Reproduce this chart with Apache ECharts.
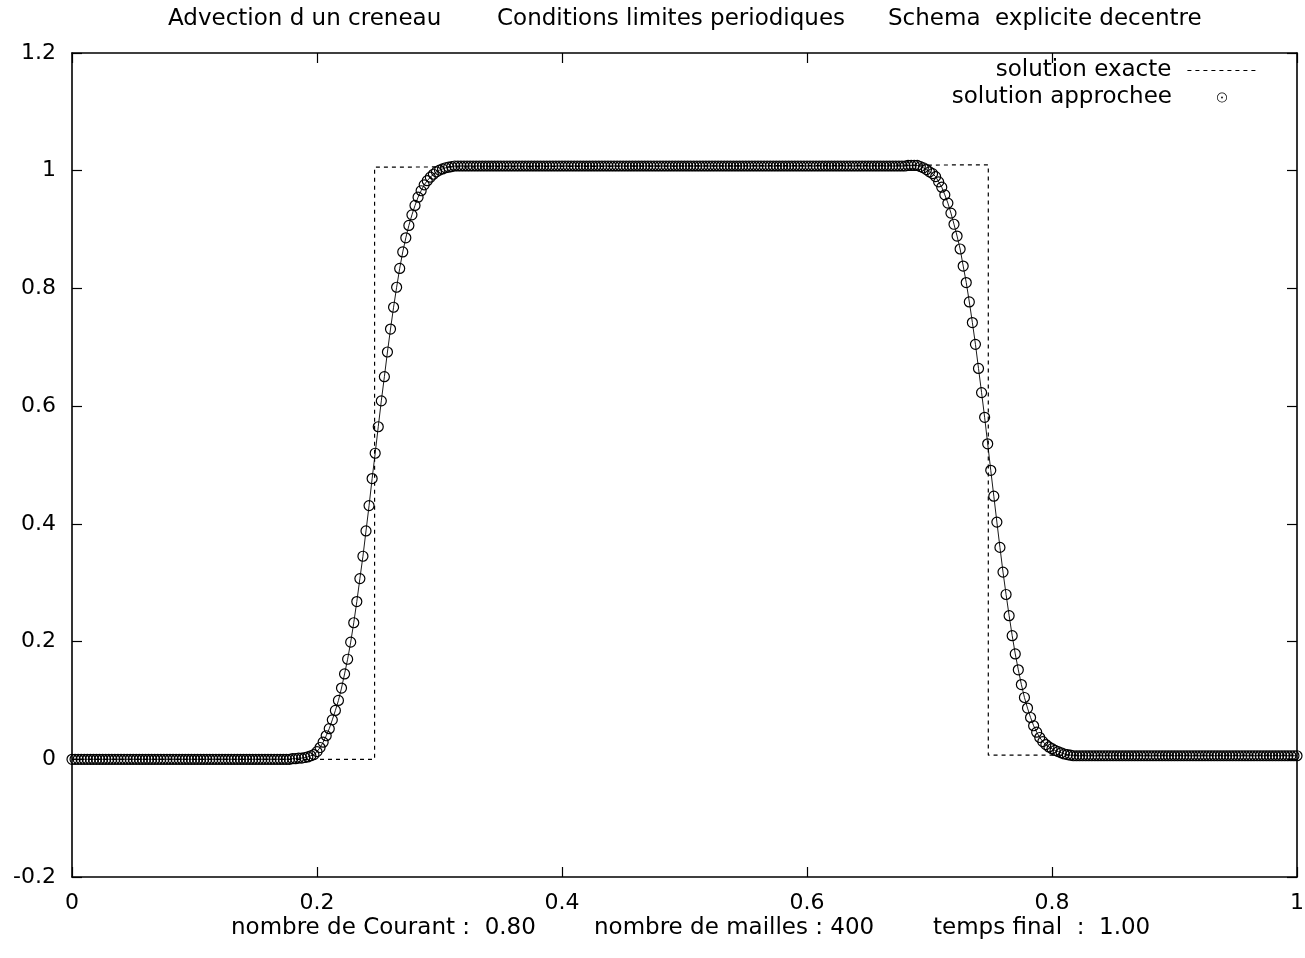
<!DOCTYPE html>
<html><head><meta charset="utf-8">
<script src="https://cdn.jsdelivr.net/npm/echarts@6/dist/echarts.min.js"></script>
<style>html,body{margin:0;padding:0;background:#fff}#c{width:1305px;height:958px}</style>
</head><body><div id="c"></div>
<script>
const FONT = 'DejaVu Sans';
const titleTexts = ['Advection d un creneau', 'Conditions limites periodiques', 'Schema  explicite decentre'];
const footerTexts = ['nombre de Courant :  0.80', 'nombre de mailles : 400', 'temps final  :  1.00'];
const seriesNames = ['solution exacte', 'solution approchee'];
const xTickValues = [0, 0.2, 0.4, 0.6, 0.8, 1];
const xTickLabels = ['0', '0.2', '0.4', '0.6', '0.8', '1'];
const yTickValues = [-0.2, 0, 0.2, 0.4, 0.6, 0.8, 1, 1.2];
const yTickLabels = ['-0.2', '0', '0.2', '0.4', '0.6', '0.8', '1', '1.2'];

// exact solution (square wave)
const exactX = [0, 0.247, 0.247, 0.748, 0.748, 1];
const exactY = [0, 0, 1.006, 1.010, 0.007, 0.007];

// approximate solution, one value per mesh node (400 cells -> 401 nodes)
const nMailles = 400;
const approxY = [
  0,0,0,0,0,0,0,0,0,0,                 // 0
  0,0,0,0,0,0,0,0,0,0,                 // 10
  0,0,0,0,0,0,0,0,0,0,                 // 20
  0,0,0,0,0,0,0,0,0,0,                 // 30
  0,0,0,0,0,0,0,0,0,0,                 // 40
  0,0,0,0,0,0,0,0,0,0,                 // 50
  0,0,0,0,0,0,0,0,0,0,                 // 60
  0,0,0.001,0.001,0.002,0.002,0.003,0.004,0.006,0.008,          // 70
  0.013,0.020,0.029,0.040,0.052,0.067,0.083,0.100,0.121,0.145,  // 80
  0.170,0.199,0.232,0.268,0.307,0.345,0.388,0.431,0.477,0.520,  // 90
  0.565,0.609,0.650,0.692,0.731,0.768,0.802,0.834,0.862,0.886,  // 100
  0.907,0.925,0.941,0.955,0.966,0.976,0.983,0.989,0.994,0.998,  // 110
  1.001,1.003,1.005,1.006,1.007,1.008,1.008,1.008,1.008,1.008,  // 120
  1.008,1.008,1.008,1.008,1.008,1.008,1.008,1.008,1.008,1.008,  // 130
  1.008,1.008,1.008,1.008,1.008,1.008,1.008,1.008,1.008,1.008,  // 140
  1.008,1.008,1.008,1.008,1.008,1.008,1.008,1.008,1.008,1.008,  // 150
  1.008,1.008,1.008,1.008,1.008,1.008,1.008,1.008,1.008,1.008,  // 160
  1.008,1.008,1.008,1.008,1.008,1.008,1.008,1.008,1.008,1.008,  // 170
  1.008,1.008,1.008,1.008,1.008,1.008,1.008,1.008,1.008,1.008,  // 180
  1.008,1.008,1.008,1.008,1.008,1.008,1.008,1.008,1.008,1.008,  // 190
  1.008,1.008,1.008,1.008,1.008,1.008,1.008,1.008,1.008,1.008,  // 200
  1.008,1.008,1.008,1.008,1.008,1.008,1.008,1.008,1.008,1.008,  // 210
  1.008,1.008,1.008,1.008,1.008,1.008,1.008,1.008,1.008,1.008,  // 220
  1.008,1.008,1.008,1.008,1.008,1.008,1.008,1.008,1.008,1.008,  // 230
  1.008,1.008,1.008,1.008,1.008,1.008,1.008,1.008,1.008,1.008,  // 240
  1.008,1.008,1.008,1.008,1.008,1.008,1.008,1.008,1.008,1.008,  // 250
  1.008,1.008,1.008,1.008,1.008,1.008,1.008,1.008,1.008,1.008,  // 260
  1.008,1.008,1.008,1.009,1.009,1.009,1.009,1.007,1.005,1.002,  // 270
  0.998,0.995,0.990,0.981,0.972,0.959,0.945,0.928,0.909,0.889,  // 280
  0.867,0.838,0.810,0.777,0.742,0.705,0.664,0.623,0.581,0.536,  // 290
  0.491,0.447,0.403,0.360,0.318,0.280,0.244,0.210,0.179,0.152,  // 300
  0.127,0.105,0.087,0.071,0.057,0.046,0.037,0.030,0.025,0.021,  // 310
  0.018,0.015,0.013,0.011,0.009,0.008,0.007,0.006,0.006,0.006,  // 320
  0.006,0.006,0.006,0.006,0.006,0.006,0.006,0.006,0.006,0.006,  // 330
  0.006,0.006,0.006,0.006,0.006,0.006,0.006,0.006,0.006,0.006,  // 340
  0.006,0.006,0.006,0.006,0.006,0.006,0.006,0.006,0.006,0.006,  // 350
  0.006,0.006,0.006,0.006,0.006,0.006,0.006,0.006,0.006,0.006,  // 360
  0.006,0.006,0.006,0.006,0.006,0.006,0.006,0.006,0.006,0.006,  // 370
  0.006,0.006,0.006,0.006,0.006,0.006,0.006,0.006,0.006,0.006,  // 380
  0.006,0.006,0.006,0.006,0.006,0.006,0.006,0.006,0.006,0.006,  // 390
  0.006                                                          // 400
];

function tickLabel(values, labels, v) {
  let best = 0;
  for (let i = 1; i < values.length; i++) if (Math.abs(values[i] - v) < Math.abs(values[best] - v)) best = i;
  return labels[best];
}

const RING = 'path://M10,0 A10,10 0 1,1 -10,0 A10,10 0 1,1 10,0 Z M8.6,0 A8.6,8.6 0 1,0 -8.6,0 A8.6,8.6 0 1,0 8.6,0 Z M1.8,0 A1.8,1.8 0 1,1 -1.8,0 A1.8,1.8 0 1,1 1.8,0 Z';

const txt = {fontFamily: FONT, fontSize: 23, fontWeight: 'normal', color: '#000'};
const lbl = {fontFamily: FONT, fontSize: 22, color: '#000'};
const axLine = {show: true, onZero: false, lineStyle: {color: '#000', width: 1.6}};
const axTick = {show: true, inside: true, length: 10, lineStyle: {color: '#000', width: 1.2}};

const titleLefts = [168, 497, 888];
const footerLefts = [231, 594, 933];

const chart = echarts.init(document.getElementById('c'), null, {renderer: 'canvas'});
chart.setOption({
  animation: false,
  backgroundColor: '#fff',
  title: titleTexts.map((t, i) => ({text: t, left: titleLefts[i], top: 8, padding: 0, textStyle: txt}))
    .concat(footerTexts.map((t, i) => ({text: t, left: footerLefts[i], top: 917, padding: 0, textStyle: txt}))),
  legend: [
    {data: [{name: seriesNames[0], icon: 'inherit',
             itemStyle: {color: 'transparent', borderWidth: 0, borderColor: 'transparent'},
             lineStyle: {color: '#000', width: 1.2, type: [4, 4]}}],
     orient: 'vertical', align: 'right', right: 47, top: 59, padding: 0,
     itemWidth: 70, itemHeight: 9, selectedMode: false,
     textStyle: Object.assign({}, txt, {padding: [0, 11, 0, 0]})},
    {data: [{name: seriesNames[1], icon: RING, itemStyle: {color: '#000', borderWidth: 0}}],
     orient: 'vertical', align: 'right', right: 78, top: 86, padding: 0,
     itemWidth: 10, itemHeight: 10, selectedMode: false,
     textStyle: Object.assign({}, txt, {padding: [0, 40, 0, 0]})}
  ],
  grid: {left: 72, right: 8, top: 53, bottom: 81, containLabel: false, outerBoundsMode: 'none'},
  xAxis: [
    {type: 'value', position: 'bottom', min: 0, max: 1, interval: 0.2,
     axisLine: axLine, axisTick: axTick, splitLine: {show: false},
     axisLabel: Object.assign({margin: 15, formatter: v => tickLabel(xTickValues, xTickLabels, v)}, lbl)},
    {type: 'value', position: 'top', min: 0, max: 1, interval: 0.2,
     axisLine: axLine, axisTick: axTick, splitLine: {show: false}, axisLabel: {show: false}}
  ],
  yAxis: [
    {type: 'value', position: 'left', min: -0.2, max: 1.2, interval: 0.2,
     axisLine: axLine, axisTick: axTick, splitLine: {show: false},
     axisLabel: Object.assign({margin: 16, formatter: v => tickLabel(yTickValues, yTickLabels, v)}, lbl)},
    {type: 'value', position: 'right', min: -0.2, max: 1.2, interval: 0.2,
     axisLine: axLine, axisTick: axTick, splitLine: {show: false}, axisLabel: {show: false}}
  ],
  series: [
    {type: 'line', name: seriesNames[0], xAxisIndex: 0, yAxisIndex: 0,
     data: exactX.map((x, i) => [x, exactY[i]]),
     symbol: 'none', silent: true, z: 2,
     itemStyle: {color: '#000'},
     lineStyle: {color: '#000', width: 1.2, type: [4, 4]},
     emphasis: {disabled: true}},
    {type: 'line', name: seriesNames[1], xAxisIndex: 0, yAxisIndex: 0,
     data: approxY.map((y, i) => [i / nMailles, y]),
     symbol: 'circle', symbolSize: 10, showSymbol: true, showAllSymbol: true, sampling: null,
     silent: true, z: 3,
     itemStyle: {color: 'transparent', borderColor: '#000', borderWidth: 1.2},
     lineStyle: {color: '#000', width: 0.9},
     emphasis: {disabled: true}}
  ]
});
</script>
</body></html>
